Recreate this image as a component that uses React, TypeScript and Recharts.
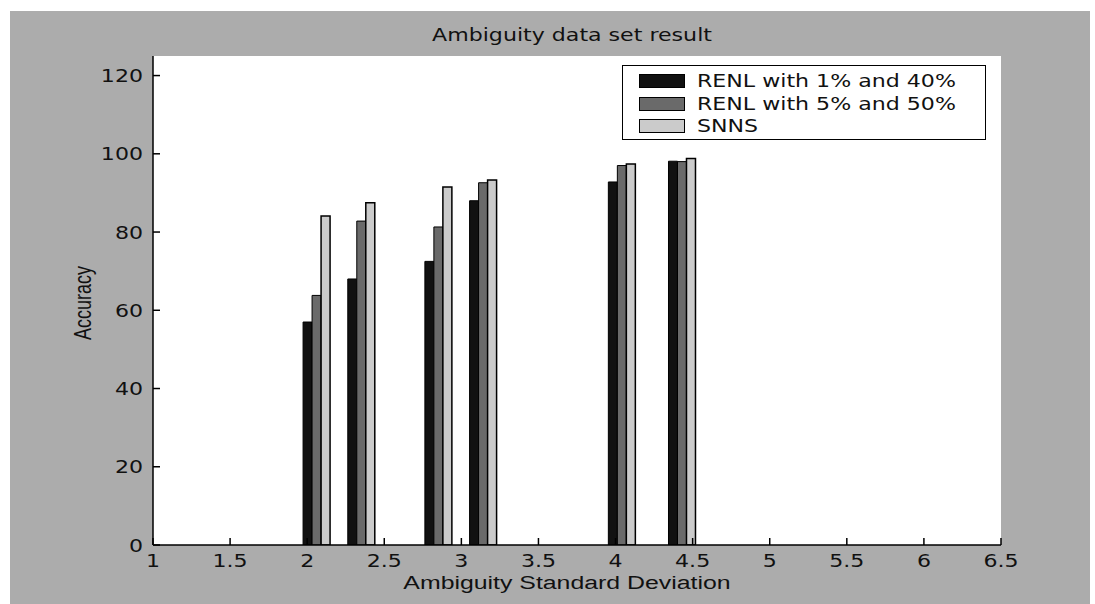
import React from "react";
import { Bar, BarChart, CartesianGrid, XAxis, YAxis } from "recharts";

// group centres
const deviations = [2.06, 2.35, 2.85, 3.14, 4.04, 4.43];
const renl140 = [57, 68, 72.5, 88, 92.8, 98.1];
const renl550 = [63.8, 82.8, 81.3, 92.6, 97, 98];
const snns = [84.1, 87.5, 91.5, 93.3, 97.4, 98.8];

const xTicks = [1, 1.5, 2, 2.5, 3, 3.5, 4, 4.5, 5, 5.5, 6, 6.5];
const yTicks = [0, 20, 40, 60, 80, 100, 120];

const seriesNames = ["RENL with 1% and 40%", "RENL with 5% and 50%", "SNNS"];
const seriesColors = ["#111111", "#6a6a6a", "#cbcbcb"];

const data = deviations.map((d, i) => ({
  dev: d,
  a: renl140[i],
  b: renl550[i],
  c: snns[i],
}));

// the source figure was stretched sideways, so text is widened
const STRETCH = 1.3;
const wideFont = "'DejaVu Sans', sans-serif";

function YTick(props: any) {
  const { x, y, payload } = props;
  return (
    <g>
      <line x1={x} y1={y} x2={x + 7} y2={y} stroke="#000" strokeWidth={1.5} />
      <text
        transform={`translate(${x - 10},${y + 6.5}) scale(${STRETCH},1)`}
        textAnchor="end"
        fontFamily={wideFont}
        fontSize={17}
        fill="#111"
      >
        {payload.value}
      </text>
    </g>
  );
}

function XTick(props: any) {
  const { x, y, payload } = props;
  return (
    <g>
      <line x1={x} y1={y} x2={x} y2={y - 7} stroke="#000" strokeWidth={1.5} />
      <text
        transform={`translate(${x},${y + 22}) scale(${STRETCH},1)`}
        textAnchor="middle"
        fontFamily={wideFont}
        fontSize={17}
        fill="#111"
      >
        {payload.value}
      </text>
    </g>
  );
}

function LegendBox() {
  return (
    <div
      style={{
        position: "absolute",
        left: 622,
        top: 65,
        width: 364,
        height: 75,
        boxSizing: "border-box",
        background: "#fff",
        border: "1.5px solid #000",
      }}
    >
      {seriesNames.map((name, i) => (
        <div
          key={name}
          style={{
            position: "absolute",
            left: 0,
            top: 5 + i * 22.5,
            height: 20,
            width: 360,
          }}
        >
          <span
            style={{
              position: "absolute",
              left: 16,
              top: 3,
              width: 46,
              height: 14,
              boxSizing: "border-box",
              background: seriesColors[i],
              border: "1.5px solid #000",
            }}
          />
          <span
            style={{
              position: "absolute",
              left: 74,
              top: 0,
              lineHeight: "20px",
              fontFamily: wideFont,
              fontSize: 17,
              color: "#111",
              whiteSpace: "nowrap",
              transform: `scaleX(${STRETCH})`,
              transformOrigin: "left center",
            }}
          >
            {name}
          </span>
        </div>
      ))}
    </div>
  );
}

export default function App() {
  return (
    <div
      style={{
        position: "absolute",
        left: 0,
        top: 0,
        width: 1095,
        height: 604,
        background: "#fff",
        overflow: "hidden",
      }}
    >
      <div
        style={{
          position: "absolute",
          left: 10,
          top: 11,
          width: 1080,
          height: 593,
          background: "#acacac",
        }}
      />
      <div
        style={{
          position: "absolute",
          left: 572,
          top: 25,
          lineHeight: "20px",
          transform: `translateX(-50%) scaleX(${STRETCH})`,
          fontFamily: wideFont,
          fontSize: 17,
          color: "#111",
          whiteSpace: "nowrap",
        }}
      >
        Ambiguity data set result
      </div>
      <div
        style={{
          position: "absolute",
          left: 84,
          top: 303,
          transform: "translate(-50%, -50%) rotate(-90deg) scaleY(1.3)",
          fontFamily: "'Liberation Sans', Arial, sans-serif",
          fontSize: 18,
          color: "#111",
          whiteSpace: "nowrap",
        }}
      >
        Accuracy
      </div>
      <div
        style={{
          position: "absolute",
          left: 567,
          top: 572,
          lineHeight: "22px",
          transform: "translateX(-50%) scaleX(1.38)",
          fontFamily: "'Liberation Sans', Arial, sans-serif",
          fontSize: 18,
          color: "#111",
          whiteSpace: "nowrap",
        }}
      >
        Ambiguity Standard Deviation
      </div>
      <div style={{ position: "absolute", left: 0, top: 0 }}>
        <BarChart
          width={1095}
          height={604}
          data={data}
          margin={{ top: 56, right: 94, bottom: 29, left: 93 }}
          barGap={0}
          barCategoryGap={0}
        >
          <CartesianGrid
            horizontal={false}
            vertical={false}
            fill="#ffffff"
            stroke="none"
          />
          <XAxis
            dataKey="dev"
            type="number"
            domain={[1, 6.5]}
            ticks={xTicks}
            interval={0}
            allowDataOverflow
            height={30}
            tickSize={0}
            tickMargin={0}
            tick={<XTick />}
            axisLine={{ stroke: "#000", strokeWidth: 1.5 }}
          />
          <YAxis
            type="number"
            domain={[0, 125]}
            ticks={yTicks}
            interval={0}
            allowDataOverflow
            width={60}
            tickSize={0}
            tickMargin={0}
            tick={<YTick />}
            axisLine={{ stroke: "#000", strokeWidth: 1.5 }}
          />
          <Bar
            dataKey="a"
            name={seriesNames[0]}
            fill={seriesColors[0]}
            stroke="#000"
            strokeWidth={1}
            barSize={9}
            isAnimationActive={false}
          />
          <Bar
            dataKey="b"
            name={seriesNames[1]}
            fill={seriesColors[1]}
            stroke="#000"
            strokeWidth={1}
            barSize={9}
            isAnimationActive={false}
          />
          <Bar
            dataKey="c"
            name={seriesNames[2]}
            fill={seriesColors[2]}
            stroke="#000"
            strokeWidth={1.5}
            barSize={9}
            isAnimationActive={false}
          />
        </BarChart>
      </div>
      <LegendBox />
    </div>
  );
}
